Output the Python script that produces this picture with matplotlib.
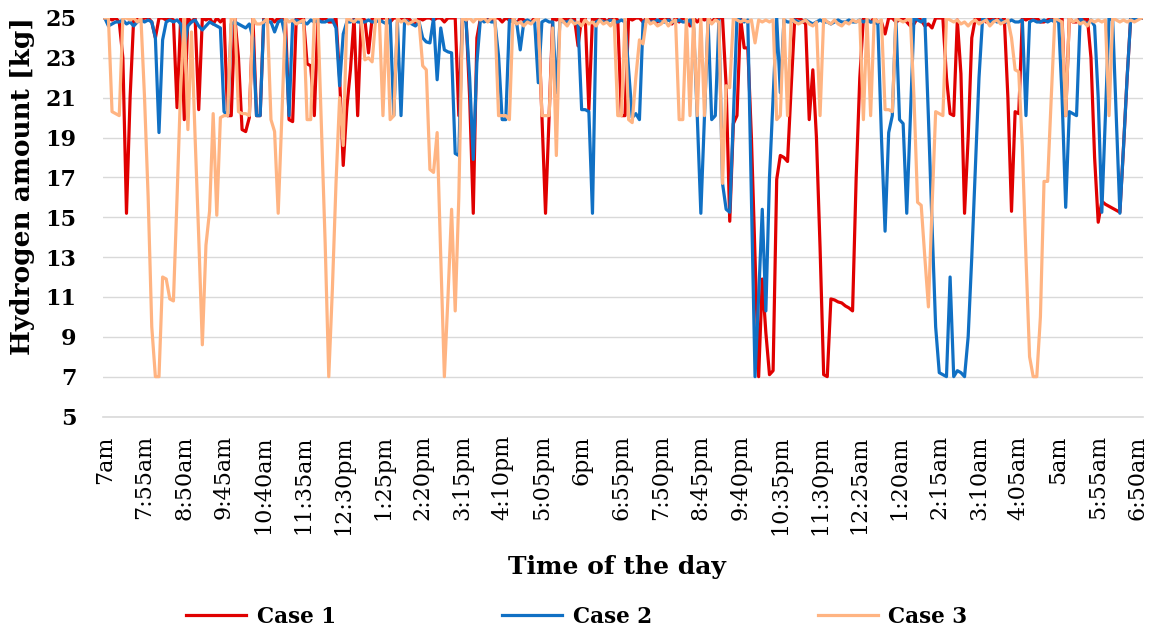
import matplotlib
matplotlib.use("Agg")
import matplotlib.pyplot as plt

# one value every 5 minutes, 7am -> 6:55am (12 values per row = 1 hour)
case1 = [
    25, 25, 24.9, 25, 24.8, 23, 15.2, 21, 25, 25, 24.9, 25,
    25, 24.8, 24, 25, 25, 24.9, 25, 24.9, 20.5, 25, 19.9, 25,
    24.8, 25, 20.4, 25, 24.9, 25, 24.7, 25, 24.8, 25, 20.1, 20.1,
    25, 23, 19.4, 19.3, 20, 25, 20.1, 20.1, 25, 24.9, 25, 24.8,
    25, 24.9, 25, 19.9, 19.8, 25, 24.9, 25, 22.7, 22.6, 20.1, 25,
    24.9, 25, 24.8, 24.8, 25, 22, 17.6, 20.5, 22.4, 25, 20.1, 25,
    24.9, 23.25, 25, 25, 24.9, 25, 25, 24.8, 25, 25, 24.9, 25,
    25, 24.8, 24.7, 25, 24.9, 25, 25, 24.9, 25, 25, 24.8, 25,
    25, 25, 20.1, 25, 25, 21, 15.2, 24, 25, 24.9, 25, 24.9,
    25, 25, 24.8, 25, 24.9, 25, 24.7, 25, 24.9, 24.8, 24.8, 25,
    25, 20.1, 15.2, 20.1, 25, 24.9, 25, 25, 24.9, 25, 25, 23.6,
    25, 25, 20.4, 25, 24.9, 25, 25, 24.8, 25, 25, 24.9, 20.1,
    20.1, 25, 24.9, 25, 25, 24.8, 25, 24.9, 25, 24.8, 25, 24.9,
    25, 24.7, 25, 24.8, 25, 24.9, 24.6, 25, 24.8, 25, 24.9, 25,
    24.8, 25, 25, 25, 21.6, 14.8, 19.7, 20.1, 25, 23.5, 23.5, 19,
    13, 7, 11.9, 9.2, 7.1, 7.3, 16.9, 18.1, 18, 17.8, 21.5, 25,
    25, 24.9, 24.7, 19.9, 22.4, 19, 13.5, 7.1, 7, 10.9, 10.85, 10.75,
    10.7, 10.55, 10.45, 10.3, 17, 22, 25, 24.9, 24.8, 25, 24.8, 24.8,
    24.2, 25, 25, 24.8, 24.9, 25, 24.8, 24.6, 24.7, 25, 24.9, 24.6,
    24.7, 24.5, 25, 25, 25, 22, 20.2, 20.1, 24.9, 22.2, 15.2, 19,
    24, 25, 24.9, 25, 24.8, 25, 24.9, 25, 24.8, 25, 21, 15.3,
    20.3, 20.2, 25, 24.9, 25, 24.9, 25, 24.8, 24.8, 24.9, 25, 25,
    24.9, 25, 20.1, 25, 24.8, 24.8, 25, 24.9, 25, 23, 18, 14.75,
    15.8, 15.65, 15.55, 15.45, 15.35, 15.25, 18.5, 22, 25, 24.9, 25, 25,
]

case2 = [
    25, 24.6, 24.7, 24.8, 24.8, 24.9, 24.7, 24.8, 24.6, 24.8, 24.9, 24.8,
    24.9, 24.8, 24, 19.25, 23.9, 24.8, 24.9, 24.8, 24.9, 24.7, 23.5, 24.6,
    24.8, 24.9, 24.6, 24.4, 24.6, 24.8, 24.7, 24.6, 24.5, 20.3, 20.1, 24.7,
    24.8, 24.7, 24.6, 24.5, 24.7, 24, 20.1, 20.1, 24.9, 24.8, 24.8, 24.3,
    24.8, 24.9, 24, 20.1, 24.8, 24.9, 24.8, 24.8, 24.7, 24.9, 24.8, 24.9,
    24.8, 24.8, 24.9, 24.9, 24.5, 21.6, 24.2, 24.8, 24.8, 24.9, 24.8, 24.8,
    24.8, 24.9, 24.8, 24.8, 24.9, 24.8, 24.7, 24.9, 20.1, 24.8, 20.1, 24.9,
    24.8, 24.7, 24.6, 24.8, 24, 23.8, 23.75, 25, 21.9, 24.5, 23.4, 23.3,
    23.25, 18.2, 18.1, 25, 24.8, 22, 17.9, 22.75, 25, 24.8, 24.9, 24.8,
    24.8, 23.1, 19.9, 19.9, 24.9, 24.8, 24.8, 23.4, 24.8, 24.9, 24.8, 24.8,
    21.75, 24.8, 24.9, 24.8, 24.8, 21.25, 24.9, 24.8, 24.8, 24.9, 24.8, 24.7,
    20.4, 20.4, 20.3, 15.2, 24.8, 24.9, 24.8, 24.8, 24.9, 24.8, 24.8, 24.9,
    24.8, 22.4, 20, 20.2, 19.9, 24.8, 24.9, 24.8, 24.8, 24.9, 24.8, 24.8,
    24.9, 24.8, 24.8, 24.9, 24.8, 24.8, 24.9, 24.5, 20.1, 15.2, 20.1, 24.9,
    19.9, 20.1, 24.9, 16.7, 15.4, 15.25, 20, 25, 24.9, 24.8, 24.9, 16,
    7, 11, 15.4, 10.3, 17, 21, 25, 21.25, 24.9, 24.8, 24.8, 24.9,
    24.8, 24.8, 24.9, 24.8, 24.7, 24.8, 24.9, 24.8, 24.8, 24.7, 24.8, 24.9,
    24.8, 24.8, 24.9, 24.8, 24.8, 24.9, 24.8, 24.9, 24.8, 24.8, 24.7, 19,
    14.3, 19.25, 20.1, 25, 19.9, 19.7, 15.2, 20, 25, 24.9, 24.8, 25,
    20, 14.6, 9.5, 7.2, 7.1, 7, 12, 7, 7.3, 7.2, 7, 9,
    13, 17.5, 22, 25, 24.9, 24.8, 24.9, 24.8, 24.9, 24.8, 24.8, 24.9,
    24.8, 24.8, 24.9, 20.1, 24.8, 24.9, 24.8, 24.8, 24.9, 24.8, 24.9, 24.8,
    25, 21, 15.5, 20.3, 20.2, 20.1, 25, 24.8, 24.7, 24.9, 24.6, 21,
    15.25, 20.1, 25, 24.9, 20, 15.2, 18.5, 22, 25, 24.9, 25, 25,
]

case3 = [
    25, 25, 20.3, 20.2, 20.1, 25, 25, 24.9, 25, 24.8, 25, 21,
    16, 9.5, 7, 7, 12, 11.9, 10.9, 10.8, 16, 21.5, 25, 19.4,
    24.3, 19, 14, 8.6, 13.6, 15.3, 20.2, 15.1, 20, 20.1, 20.1, 25,
    25, 20.3, 20.2, 20.2, 20.1, 25, 24.7, 24.7, 24.8, 25, 19.9, 19.3,
    15.2, 20, 25, 24.8, 24.9, 24.7, 24.8, 24.9, 19.9, 19.9, 25, 25,
    19.4, 13.7, 7, 11.4, 16.7, 21, 18.6, 25, 24.9, 24.8, 25, 24.9,
    22.9, 23, 22.8, 25, 25, 20.1, 25, 19.9, 20.1, 25, 24.8, 24.9,
    24.7, 24.8, 24.9, 24.8, 22.6, 22.4, 17.4, 17.25, 19.25, 13, 7, 11,
    15.4, 10.3, 16, 25, 24.9, 25, 24.8, 25, 24.9, 25, 24.8, 25,
    25, 20.1, 20.1, 20.1, 19.9, 25, 24.7, 24.8, 24.6, 24.8, 24.7, 24.9,
    25, 20.1, 20.1, 20.1, 24.5, 18.1, 25, 24.8, 24.6, 24.9, 24.7, 24.8,
    24.6, 24.9, 24.7, 24.8, 24.6, 24.9, 24.7, 24.8, 24.6, 24.9, 20.1, 20.1,
    25, 19.9, 19.75, 22, 23.9, 23.7, 25, 24.7, 24.8, 24.6, 24.7, 24.9,
    24.6, 24.8, 24.9, 19.9, 19.9, 25, 20.1, 25, 20.1, 25, 20.1, 25,
    24.7, 24.9, 24.8, 16.7, 21.6, 21.5, 25, 24.9, 24.8, 24.9, 24.8, 24.9,
    23.75, 24.9, 24.8, 24.9, 24.8, 24.9, 19.9, 20.1, 25, 20.1, 25, 24.8,
    24.7, 24.8, 24.9, 24.7, 24.6, 24.8, 20.1, 25, 24.8, 24.7, 24.9, 24.7,
    24.6, 24.8, 24.7, 24.9, 24.8, 24.9, 19.9, 25, 20.1, 25, 24.8, 24.9,
    20.4, 20.4, 20.3, 25, 24.9, 24.8, 24.9, 25, 21, 15.75, 15.6, 13,
    10.5, 15.5, 20.3, 20.2, 20.1, 25, 24.9, 24.8, 24.9, 24.7, 24.8, 24.6,
    24.8, 24.9, 24.7, 24.8, 24.9, 24.6, 24.8, 24.9, 24.7, 24.8, 24.9, 24,
    22.4, 22.3, 18.5, 13, 8, 7, 7, 10, 16.8, 16.8, 21, 25,
    24.9, 24.8, 20.1, 25, 24.8, 24.9, 24.7, 24.8, 24.6, 24.9, 24.8, 24.9,
    24.8, 24.9, 20.1, 25, 24.9, 24.8, 24.9, 24.8, 24.9, 24.8, 24.9, 25,
]

tick_labels = ["7am", "7:55am", "8:50am", "9:45am", "10:40am", "11:35am",
               "12:30pm", "1:25pm", "2:20pm", "3:15pm", "4:10pm", "5:05pm",
               "6pm", "6:55pm", "7:50pm", "8:45pm", "9:40pm", "10:35pm",
               "11:30pm", "12:25am", "1:20am", "2:15am", "3:10am", "4:05am",
               "5am", "5:55am", "6:50am"]

FONT = "DejaVu Serif"

fig = plt.figure(figsize=(11.57, 6.34), dpi=100)
ax = fig.add_axes([103 / 1157, 1 - 416.5 / 634, (1143 - 103) / 1157, (416.5 - 18) / 634])

x = range(len(case1))
ax.plot(x, case1, color="#E00000", lw=2.3, label="Case 1", solid_joinstyle="round")
ax.plot(x, case2, color="#1070C4", lw=2.3, label="Case 2", solid_joinstyle="round")
ax.plot(x, case3, color="#FFB482", lw=2.3, label="Case 3", solid_joinstyle="round")

ax.set_xlim(-0.5, len(case1) - 0.6)
ax.set_ylim(5, 25)
ax.set_yticks(range(5, 26, 2))
ax.set_xticks(range(0, len(case1), 11))
ax.set_xticklabels(tick_labels, rotation=90, family=FONT, fontsize=16)
for t in ax.get_yticklabels():
    t.set_family(FONT)
    t.set_fontweight("bold")
    t.set_fontsize(16)
ax.tick_params(axis="x", length=0, pad=13.5)
ax.tick_params(axis="y", length=0, pad=19)

ax.grid(axis="y", color="#D9D9D9", lw=1)
ax.set_axisbelow(True)
for s in ["top", "right", "left"]:
    ax.spines[s].set_visible(False)
ax.spines["bottom"].set_color("#D9D9D9")
ax.spines["bottom"].set_linewidth(1.2)

fig.text(23 / 1157, 1 - 186 / 634, "Hydrogen amount [kg]", rotation=90, ha="center", va="center",
         family=FONT, fontweight="bold", fontsize=19)
fig.text(0.5335, 1 - 567 / 634, "Time of the day", ha="center", va="center",
         family=FONT, fontweight="bold", fontsize=18)

fs = 15.5
fpx = fs * 100 / 72
fig.legend(loc="center", bbox_to_anchor=(0.4985, 1 - 617 / 634), ncol=3, frameon=False,
           prop={"family": FONT, "weight": "bold", "size": fs},
           handlelength=60 / fpx, handletextpad=0.5, columnspacing=166 / fpx)

fig.savefig("out.png", dpi=100)
